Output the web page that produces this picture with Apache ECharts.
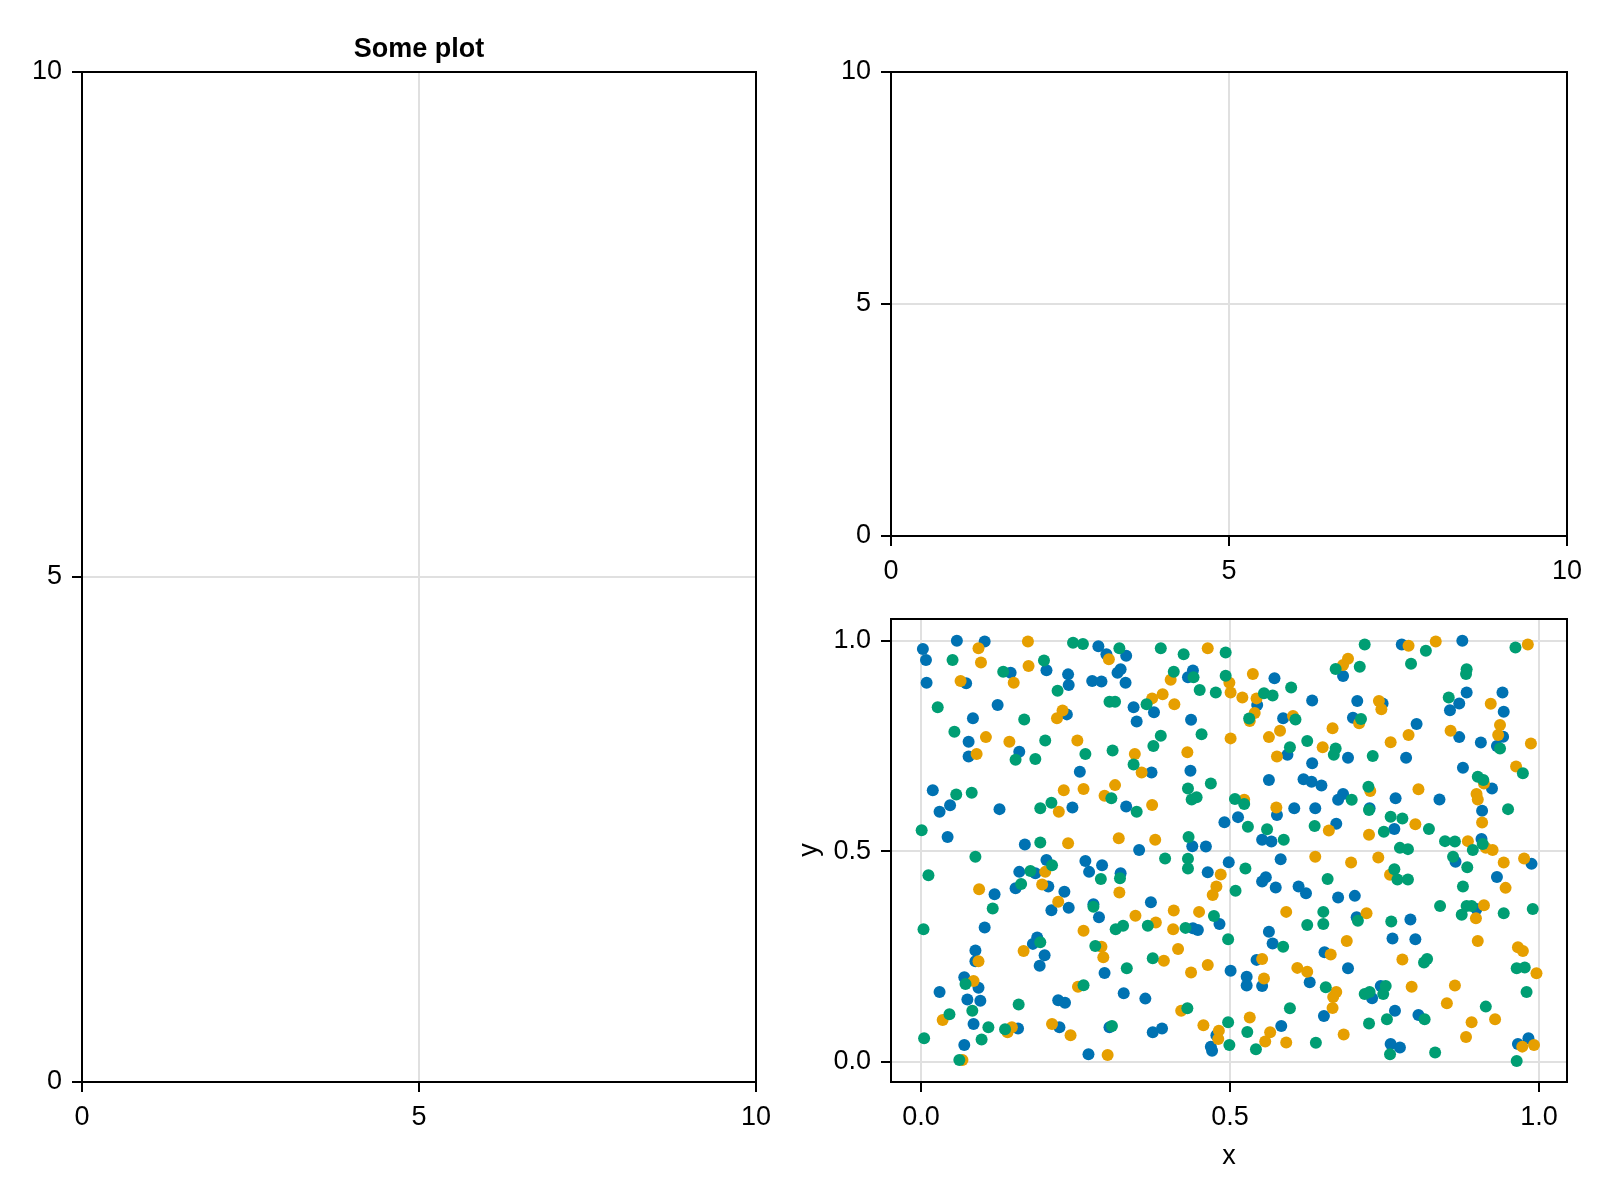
<!DOCTYPE html>
<html>
<head>
<meta charset="utf-8">
<script src="https://cdn.jsdelivr.net/npm/echarts@6/dist/echarts.min.js"></script>
<style>
html,body{margin:0;padding:0;background:#fff;}
#chart{width:1600px;height:1200px;}
</style>
</head>
<body>
<div id="chart"></div>
<script>
// ---------- data ----------
const titleText = 'Some plot';
const emptyTicks = [0, 5, 10];
const scatterTicks = [0, 0.5, 1];
const xLabel = 'x';
const yLabel = 'y';
const seriesColors = ['#0072B2', '#E69F00', '#009E73'];

const blue = [
[0.058,1.000],[0.003,0.980],[0.008,0.954],[0.009,0.900],[0.103,0.998],[0.073,0.899],[0.145,0.924],[0.203,0.930],[0.238,0.920],[0.239,0.895],[0.287,0.987],[0.300,0.968],[0.277,0.904],[0.292,0.903],[0.124,0.847],[0.084,0.816],[0.236,0.825],[0.077,0.760],[0.077,0.725],[0.159,0.736],[0.257,0.689],[0.019,0.645],[0.047,0.609],[0.030,0.594],[0.127,0.600],[0.245,0.604],[0.043,0.534],[0.168,0.516],
[0.332,0.964],[0.318,0.924],[0.323,0.932],[0.331,0.900],[0.440,0.929],[0.432,0.913],[0.572,0.911],[0.344,0.842],[0.377,0.830],[0.349,0.808],[0.437,0.812],[0.544,0.847],[0.586,0.816],[0.633,0.858],[0.593,0.729],[0.633,0.709],[0.373,0.687],[0.436,0.691],[0.563,0.669],[0.619,0.671],[0.632,0.665],[0.648,0.656],[0.332,0.606],[0.513,0.581],[0.491,0.569],[0.576,0.586],[0.604,0.602],[0.638,0.602],[0.552,0.527],[0.567,0.523],[0.439,0.512],[0.461,0.511],[0.353,0.503],
[0.778,0.991],[0.876,1.000],[0.683,0.916],[0.883,0.877],[0.941,0.877],[0.706,0.857],[0.747,0.851],[0.871,0.851],[0.856,0.835],[0.943,0.831],[0.699,0.817],[0.802,0.802],[0.871,0.771],[0.906,0.758],[0.942,0.772],[0.932,0.750],[0.691,0.722],[0.785,0.722],[0.877,0.698],[0.924,0.649],[0.683,0.636],[0.675,0.622],[0.768,0.626],[0.839,0.623],[0.726,0.602],[0.908,0.596],[0.672,0.565],[0.766,0.553],[0.907,0.529],
[0.203,0.479],[0.266,0.477],[0.293,0.467],[0.272,0.451],[0.159,0.451],[0.185,0.448],[0.206,0.416],[0.153,0.412],[0.119,0.398],[0.232,0.404],[0.239,0.366],[0.211,0.360],[0.288,0.343],[0.103,0.319],[0.188,0.295],[0.181,0.280],[0.200,0.253],[0.192,0.228],[0.088,0.264],[0.088,0.239],[0.297,0.211],[0.070,0.201],[0.093,0.176],[0.030,0.166],[0.075,0.148],[0.096,0.145],[0.222,0.146],[0.233,0.140],[0.085,0.090],[0.157,0.079],[0.224,0.082],[0.070,0.040],[0.271,0.018],[0.279,0.374],[0.305,0.082],
[0.498,0.474],[0.582,0.481],[0.464,0.450],[0.323,0.448],[0.558,0.438],[0.552,0.428],[0.574,0.414],[0.611,0.416],[0.623,0.400],[0.372,0.379],[0.483,0.327],[0.440,0.317],[0.448,0.313],[0.563,0.309],[0.569,0.281],[0.543,0.242],[0.653,0.260],[0.501,0.216],[0.527,0.202],[0.527,0.181],[0.552,0.180],[0.629,0.189],[0.328,0.163],[0.363,0.150],[0.652,0.109],[0.375,0.070],[0.390,0.079],[0.583,0.085],[0.478,0.063],[0.469,0.036],[0.471,0.026],
[0.865,0.475],[0.988,0.470],[0.932,0.439],[0.675,0.390],[0.702,0.394],[0.705,0.343],[0.792,0.338],[0.763,0.293],[0.800,0.291],[0.899,0.363],[0.691,0.222],[0.744,0.180],[0.730,0.151],[0.767,0.121],[0.805,0.111],[0.760,0.042],[0.775,0.034],[0.966,0.042],[0.983,0.056]
];

const orange = [
[0.093,0.982],[0.097,0.948],[0.173,0.998],[0.174,0.940],[0.064,0.904],[0.150,0.900],[0.304,0.956],[0.229,0.834],[0.220,0.816],[0.105,0.771],[0.143,0.760],[0.253,0.763],[0.090,0.731],[0.231,0.645],[0.263,0.648],[0.297,0.632],[0.223,0.594],[0.238,0.519],
[0.464,0.982],[0.404,0.907],[0.537,0.921],[0.499,0.900],[0.501,0.877],[0.520,0.865],[0.543,0.863],[0.374,0.863],[0.391,0.873],[0.410,0.849],[0.540,0.828],[0.532,0.809],[0.602,0.821],[0.581,0.786],[0.563,0.771],[0.501,0.768],[0.650,0.747],[0.576,0.725],[0.431,0.735],[0.346,0.731],[0.357,0.687],[0.314,0.657],[0.374,0.610],[0.523,0.622],[0.575,0.604],[0.660,0.549],[0.320,0.531],[0.379,0.527],
[0.789,0.988],[0.833,0.998],[0.982,0.991],[0.691,0.957],[0.683,0.942],[0.741,0.857],[0.745,0.837],[0.922,0.850],[0.709,0.804],[0.666,0.792],[0.789,0.776],[0.760,0.759],[0.857,0.786],[0.937,0.800],[0.934,0.776],[0.987,0.756],[0.963,0.701],[0.911,0.661],[0.805,0.647],[0.727,0.643],[0.899,0.636],[0.901,0.623],[0.908,0.568],[0.800,0.564],[0.725,0.539],[0.885,0.524],[0.925,0.503],
[0.201,0.451],[0.196,0.421],[0.094,0.410],[0.222,0.380],[0.263,0.311],[0.166,0.263],[0.292,0.273],[0.295,0.248],[0.093,0.239],[0.085,0.192],[0.254,0.178],[0.035,0.099],[0.147,0.082],[0.140,0.070],[0.212,0.090],[0.242,0.063],[0.302,0.016],[0.067,0.004],
[0.638,0.487],[0.485,0.445],[0.478,0.416],[0.472,0.396],[0.321,0.402],[0.591,0.356],[0.347,0.347],[0.409,0.359],[0.450,0.356],[0.380,0.331],[0.408,0.315],[0.416,0.268],[0.393,0.240],[0.464,0.230],[0.437,0.212],[0.552,0.244],[0.555,0.198],[0.663,0.255],[0.609,0.223],[0.625,0.214],[0.421,0.121],[0.457,0.087],[0.532,0.105],[0.482,0.074],[0.481,0.054],[0.565,0.070],[0.557,0.048],[0.591,0.046],
[0.696,0.473],[0.740,0.485],[0.943,0.473],[0.976,0.483],[0.759,0.444],[0.946,0.413],[0.911,0.372],[0.898,0.341],[0.721,0.353],[0.689,0.287],[0.901,0.287],[0.966,0.272],[0.974,0.263],[0.779,0.243],[0.996,0.210],[0.794,0.178],[0.864,0.181],[0.851,0.139],[0.891,0.094],[0.929,0.101],[0.882,0.059],[0.684,0.065],[0.973,0.036],[0.992,0.040],[0.672,0.166],[0.667,0.154],[0.666,0.128],[0.914,0.508]
];

const green = [
[0.246,0.995],[0.262,0.992],[0.051,0.954],[0.133,0.926],[0.199,0.953],[0.221,0.881],[0.027,0.842],[0.167,0.813],[0.054,0.784],[0.201,0.763],[0.266,0.731],[0.153,0.717],[0.185,0.719],[0.057,0.635],[0.082,0.639],[0.193,0.602],[0.211,0.615],[0.001,0.550],[0.193,0.521],
[0.321,0.982],[0.388,0.982],[0.425,0.968],[0.493,0.972],[0.409,0.926],[0.441,0.913],[0.493,0.917],[0.451,0.883],[0.477,0.877],[0.555,0.875],[0.569,0.870],[0.599,0.889],[0.305,0.855],[0.314,0.855],[0.365,0.849],[0.531,0.815],[0.606,0.813],[0.454,0.778],[0.388,0.774],[0.376,0.750],[0.310,0.739],[0.344,0.706],[0.625,0.762],[0.597,0.747],[0.469,0.661],[0.432,0.649],[0.438,0.623],[0.446,0.628],[0.308,0.626],[0.349,0.594],[0.508,0.624],[0.523,0.612],[0.529,0.558],[0.560,0.552],[0.587,0.527],[0.637,0.560],[0.433,0.534],
[0.718,0.991],[0.817,0.976],[0.793,0.945],[0.962,0.984],[0.671,0.933],[0.710,0.938],[0.883,0.932],[0.882,0.921],[0.854,0.865],[0.712,0.814],[0.671,0.744],[0.668,0.729],[0.731,0.726],[0.937,0.744],[0.901,0.677],[0.910,0.669],[0.974,0.685],[0.724,0.653],[0.697,0.622],[0.725,0.598],[0.760,0.582],[0.779,0.578],[0.749,0.546],[0.822,0.553],[0.950,0.600],[0.848,0.524],[0.864,0.523],[0.909,0.517],[0.893,0.503],[0.775,0.508],[0.788,0.505],
[0.088,0.487],[0.012,0.443],[0.212,0.467],[0.177,0.453],[0.162,0.422],[0.291,0.434],[0.116,0.364],[0.279,0.368],[0.004,0.315],[0.193,0.284],[0.282,0.275],[0.072,0.185],[0.263,0.182],[0.158,0.136],[0.083,0.121],[0.046,0.113],[0.109,0.082],[0.136,0.077],[0.309,0.085],[0.005,0.056],[0.098,0.053],[0.062,0.004],
[0.395,0.483],[0.432,0.482],[0.432,0.459],[0.525,0.459],[0.322,0.436],[0.509,0.406],[0.658,0.434],[0.474,0.346],[0.367,0.323],[0.315,0.315],[0.327,0.323],[0.428,0.318],[0.497,0.291],[0.586,0.273],[0.625,0.325],[0.651,0.356],[0.651,0.327],[0.375,0.246],[0.333,0.222],[0.655,0.177],[0.431,0.127],[0.597,0.127],[0.497,0.094],[0.528,0.071],[0.499,0.040],[0.542,0.030],[0.639,0.045],
[0.861,0.487],[0.884,0.462],[0.766,0.457],[0.771,0.433],[0.788,0.433],[0.877,0.416],[0.840,0.370],[0.883,0.370],[0.891,0.370],[0.875,0.349],[0.943,0.353],[0.990,0.363],[0.707,0.335],[0.761,0.333],[0.814,0.236],[0.819,0.244],[0.964,0.222],[0.977,0.224],[0.980,0.166],[0.718,0.161],[0.726,0.166],[0.748,0.161],[0.752,0.180],[0.914,0.131],[0.754,0.101],[0.815,0.101],[0.725,0.091],[0.759,0.018],[0.832,0.022],[0.964,0.002]
];

// ---------- styling ----------
const FONT = '"Liberation Sans", Arial, sans-serif';
const FS = 27;
const gridLine = {show: true, lineStyle: {color: '#e0e0e0', width: 2}};
const axisLine = {show: true, onZero: false, lineStyle: {color: '#000', width: 2}};
const axisTick = {show: true, inside: false, length: 10, lineStyle: {color: '#000', width: 2}};
const yLabelBase = {color: '#000', fontSize: FS, fontFamily: FONT, margin: 20, padding: [4, 0, 0, 0]};
const xLabelBase = {color: '#000', fontSize: FS, fontFamily: FONT, margin: 22};

function emptyAxis(gridIndex, isX) {
  return {
    type: 'value', gridIndex: gridIndex, min: 0, max: 10, interval: 5,
    axisLine: axisLine, axisTick: axisTick,
    axisLabel: Object.assign({}, isX ? xLabelBase : yLabelBase),
    splitLine: gridLine
  };
}
function scatterAxis(gridIndex, min, max, isX) {
  return {
    type: 'value', gridIndex: gridIndex, min: min, max: max,
    axisLine: axisLine,
    axisTick: Object.assign({customValues: scatterTicks}, axisTick),
    axisLabel: Object.assign({customValues: scatterTicks, formatter: v => Number(v).toFixed(1)}, isX ? xLabelBase : yLabelBase),
    splitLine: gridLine
  };
}

const gridBase = {show: true, borderColor: '#000', borderWidth: 2, backgroundColor: 'transparent', containLabel: false, outerBoundsMode: 'none', z: 5};

const option = {
  animation: false,
  backgroundColor: '#fff',
  textStyle: {fontFamily: FONT},
  grid: [
    Object.assign({left: 82, top: 72, width: 674, height: 1010}, gridBase),
    Object.assign({left: 891, top: 72, width: 676, height: 464}, gridBase),
    Object.assign({left: 891, top: 619, width: 676, height: 463}, gridBase)
  ],
  xAxis: [emptyAxis(0, true), emptyAxis(1, true), scatterAxis(2, -0.0486, 1.0454, true)],
  yAxis: [emptyAxis(0, false), emptyAxis(1, false), scatterAxis(2, -0.048, 1.0515, false)],
  graphic: [
    {type: 'text', x: 419, y: 49.5, z: 10, style: {text: titleText, font: 'bold 27px ' + FONT, fill: '#000', align: 'center', verticalAlign: 'middle'}},
    {type: 'text', x: 1229, y: 1157, z: 10, style: {text: xLabel, font: FS + 'px ' + FONT, fill: '#000', align: 'center', verticalAlign: 'middle'}},
    {type: 'text', x: 809.5, y: 850, z: 10, rotation: Math.PI / 2, style: {text: yLabel, font: FS + 'px ' + FONT, fill: '#000', align: 'center', verticalAlign: 'middle'}}
  ],
  series: [blue, orange, green].map((d, i) => ({
    type: 'scatter', xAxisIndex: 2, yAxisIndex: 2, data: d,
    symbol: 'circle', symbolSize: 12, z: 3,
    itemStyle: {color: seriesColors[i], opacity: 1, borderWidth: 0},
    emphasis: {disabled: true}
  }))
};

const chart = echarts.init(document.getElementById('chart'), null, {renderer: 'canvas'});
chart.setOption(option);
</script>
</body>
</html>
